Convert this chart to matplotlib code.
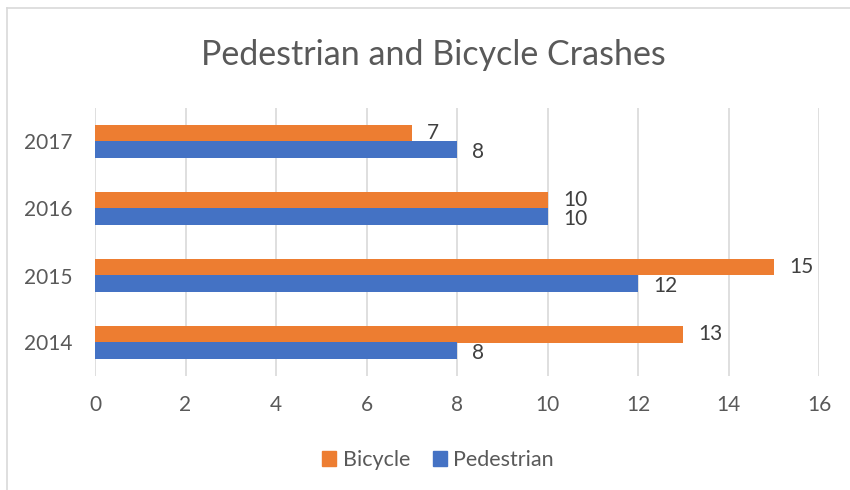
import matplotlib
matplotlib.use("Agg")
import matplotlib.pyplot as plt
from matplotlib.patches import Patch
from matplotlib.lines import Line2D
import numpy as np

years = ["2014", "2015", "2016", "2017"]
bicycle = [13, 15, 10, 7]
pedestrian = [8, 12, 10, 8]
series_names = ["Bicycle", "Pedestrian"]
colors = ["#ED7D31", "#4472C4"]
xticks = [0, 2, 4, 6, 8, 10, 12, 14, 16]

plt.rcParams['font.family'] = ['Lato', 'DejaVu Sans']
W, H = 850, 490
fig = plt.figure(figsize=(W / 100, H / 100), dpi=100)
ax = fig.add_axes([95 / W, 1 - 376 / H, (819 - 95) / W, (376 - 108) / H])

y = np.arange(len(years))
h = 0.241
ax.barh(y + h / 2, bicycle, height=h, color=colors[0], label=series_names[0], zorder=3)
ax.barh(y - h / 2, pedestrian, height=h, color=colors[1], label=series_names[1], zorder=3)

tc = "#595959"
for yi, v in zip(y, bicycle):
    ax.annotate(str(v), (v, yi + h / 2), xytext=(11, 0), textcoords="offset points",
                va="center", ha="left", fontsize=15, color="#404040")
for yi, v in zip(y, pedestrian):
    ax.annotate(str(v), (v, yi - h / 2), xytext=(11, -1.5), textcoords="offset points",
                va="center", ha="left", fontsize=15, color="#404040")

ax.set_xlim(0, 16)
ax.set_ylim(-0.5, 3.5)
ax.set_xticks(xticks)
ax.set_xticklabels([str(t) for t in xticks])
ax.set_yticks(y)
ax.set_yticklabels(years)
ax.tick_params(axis="both", length=0, labelsize=15, colors=tc)
ax.tick_params(axis="y", pad=16)
ax.tick_params(axis="x", pad=13.5)
ax.grid(axis="x", color="#D9D9D9", lw=1.2, zorder=0)
for s in ax.spines.values():
    s.set_visible(False)

fig.text(433 / W, 1 - 65 / H, "Pedestrian and Bicycle Crashes", ha="center", va="baseline",
         fontsize=24.5, color="#595959")

handles = [Patch(color=colors[0], label=series_names[0]),
           Patch(color=colors[1], label=series_names[1])]
fig.legend(handles=handles, loc="center", bbox_to_anchor=(438 / W, 1 - 460 / H), ncol=2,
           frameon=False, fontsize=15.5, handlelength=0.65, handleheight=0.65,
           handletextpad=0.3, columnspacing=1.05, labelcolor=tc)

# figure border (top and left visible)
fig.add_artist(Line2D([7 / W, 7 / W], [0, 1 - 8 / H], transform=fig.transFigure,
                      color="#D9D9D9", lw=1.2))
fig.add_artist(Line2D([7 / W, 1], [1 - 8 / H, 1 - 8 / H], transform=fig.transFigure,
                      color="#D9D9D9", lw=1.2))

fig.savefig("out.png", dpi=100)
